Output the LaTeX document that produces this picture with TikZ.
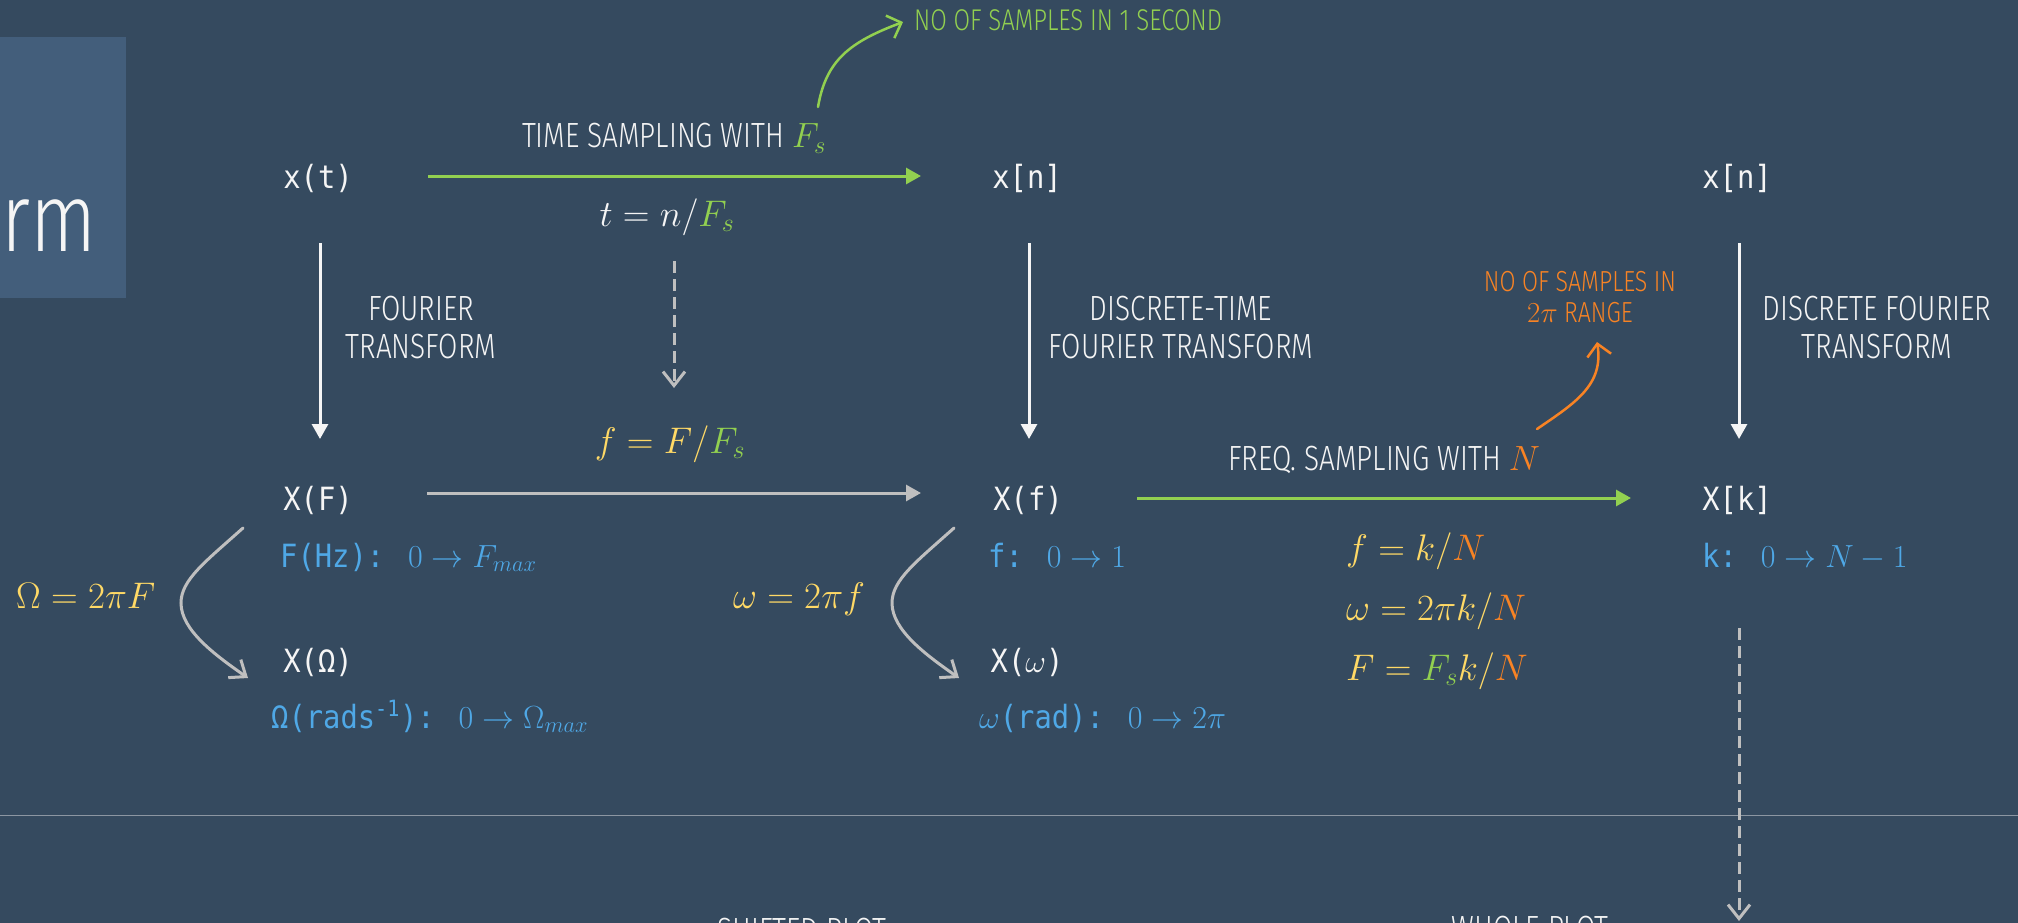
\RequirePackage{fix-cm}
\documentclass[tikz,border=0pt]{standalone}
\usepackage{fontspec}
\usetikzlibrary{arrows.meta}
\newfontfamily\handfont[FakeStretch=0.8]{Fira Sans Light}
\newfontfamily\monofont[FakeStretch=0.9]{DejaVu Sans Mono}
\definecolor{bgc}{RGB}{53,74,95}
\definecolor{boxc}{RGB}{67,94,123}
\definecolor{txtw}{RGB}{245,245,245}
\definecolor{myyellow}{RGB}{255,217,102}
\definecolor{mygreen}{RGB}{146,208,80}
\definecolor{myorange}{RGB}{248,131,36}
\definecolor{myblue}{RGB}{79,168,230}
\definecolor{mygray}{RGB}{191,191,191}
\definecolor{sepc}{RGB}{140,150,162}
\tikzset{
  nd/.style={text=txtw, font=\monofont\fontsize{32}{38}\selectfont, inner sep=0pt, anchor=base},
  lbl/.style={text=txtw, font=\handfont\fontsize{35}{38}\selectfont, align=center, inner sep=0pt},
  note/.style={font=\handfont\fontsize{29}{31}\selectfont, align=center, inner sep=0pt},
  mth/.style={text=myyellow, font=\fontsize{37}{44}\selectfont, inner sep=0pt},
  rng/.style={text=myblue, font=\monofont\fontsize{32}{38}\selectfont, inner sep=0pt, anchor=base west},
  warrow/.style={draw=txtw, line width=3pt, -{Triangle[length=15pt,width=16pt]}},
  garrow/.style={draw=mygreen, line width=3pt, -{Triangle[length=15pt,width=16pt]}},
  grayarrow/.style={draw=mygray, line width=3pt, -{Triangle[length=15pt,width=16pt]}},
  dasharrow/.style={draw=mygray, line width=3pt, dash pattern=on 12pt off 6pt, -{Straight Barb[length=14pt,width=22pt]}},
  curvearrow/.style={draw=mygray, line width=3pt, line cap=round, -{Straight Barb[length=14pt,width=22pt]}},
  gnote/.style={draw=mygreen, line width=2.5pt, line cap=round, -{Straight Barb[length=12pt,width=24pt]}},
  onote/.style={draw=myorange, line width=2.5pt, line cap=round, -{Straight Barb[length=12pt,width=24pt]}},
}
\begin{document}
\begin{tikzpicture}[x=1pt,y=-1pt]
\useasboundingbox (0,0) rectangle (2018,923);
\clip (0,0) rectangle (2018,923);
\fill[bgc] (0,0) rectangle (2018,923);
\fill[boxc] (0,37) rectangle (126,298);
\node[text=txtw, font=\handfont\fontsize{97}{100}\selectfont, inner sep=0pt, anchor=base east] (ttl) at (97,251) {rm};
\draw[sepc, line width=1pt] (0,815) -- (2018,815);

% main nodes
\node[nd] (xt) at (318,188) {x(t)};
\node[nd] (xn) at (1027,188) {x[n]};
\node[nd] (xnn) at (1737,188) {x[n]};
\node[nd] (XF) at (318,510) {X(F)};
\node[nd] (Xf) at (1028,510) {X(f)};
\node[nd] (Xk) at (1737,510) {X[k]};
\node[nd] (XO) at (318,672) {X(Ω)};
\node[nd] (Xw) at (1027,672) {X($\omega$)};

% ranges
\node[rng] (rF) at (280,567) {F(Hz):\hspace{24pt}$0\to F_{max}$};
\node[rng] (rO) at (271,728) {Ω(rads\textsuperscript{-1}):\hspace{24pt}$0\to \Omega_{max}$};
\node[rng] (rf) at (988,567) {f:\hspace{24pt}$0\to 1$};
\node[rng] (rw) at (979,728) {$\omega$(rad):\hspace{24pt}$0\to 2\pi$};
\node[rng] (rk) at (1702,567) {k:\hspace{24pt}$0\to N-1$};

% labels
\node[lbl, anchor=base] (ts) at (674,148) {TIME SAMPLING WITH {\color{mygreen}$F_s$}};
\node[lbl, anchor=base] (fs) at (1384,470) {FREQ. SAMPLING WITH {\color{myorange}$N$}};
\node[lbl] (ft) at (421,328) {FOURIER\\TRANSFORM};
\node[lbl] (dtft) at (1181,328) {DISCRETE-TIME\\FOURIER TRANSFORM};
\node[lbl] (dft) at (1877,328) {DISCRETE FOURIER\\TRANSFORM};
\node[note, font=\handfont\fontsize{30}{31}\selectfont, text=mygreen, anchor=west] (nos) at (914,20) {NO OF SAMPLES IN 1 SECOND};
\node[note, text=myorange] (nsr) at (1580,297) {NO OF SAMPLES IN\\$2\pi$ RANGE};
\node[note, font=\handfont\fontsize{35}{38}\selectfont, text=txtw, anchor=base] (shp) at (802,942) {SHIFTED PLOT};
\node[note, font=\handfont\fontsize{35}{38}\selectfont, text=txtw, anchor=base] (whp) at (1530,940) {WHOLE PLOT};

% equations
\node[mth, text=txtw, anchor=base] (tn) at (667,226) {$t = n/{\color{mygreen}F_s}$};
\node[mth, anchor=base] (fF) at (670,453) {$f = F/{\color{mygreen}F_s}$};
\node[mth, anchor=base west] (eO) at (16,608) {$\Omega = 2\pi F$};
\node[mth, anchor=base west] (ew) at (733,608) {$\omega = 2\pi f$};
\node[mth, anchor=base west] (e1) at (1346,560) {$f = k/{\color{myorange}N}$};
\node[mth, anchor=base west] (e2) at (1346,620) {$\omega = 2\pi k/{\color{myorange}N}$};
\node[mth, anchor=base west] (e3) at (1346,680) {$F = {\color{mygreen}F_s}k/{\color{myorange}N}$};

% connectors
\draw[garrow] ([xshift=110pt,yshift=12pt]xt.base) -- ([xshift=-106pt,yshift=12pt]xn.base);
\draw[grayarrow] ([xshift=109pt,yshift=17pt]XF.base) -- ([xshift=-107pt,yshift=17pt]Xf.base);
\draw[garrow] ([xshift=109pt,yshift=12pt]Xf.base) -- ([xshift=-106pt,yshift=12pt]Xk.base);
\draw[warrow] ([xshift=2pt,yshift=-55pt]xt.base) -- ([xshift=2pt,yshift=71pt]XF.base);
\draw[warrow] ([xshift=2pt,yshift=-55pt]xn.base) -- ([xshift=1pt,yshift=71pt]Xf.base);
\draw[warrow] ([xshift=2pt,yshift=-55pt]xnn.base) -- ([xshift=2pt,yshift=71pt]Xk.base);
\draw[dasharrow] ([xshift=7pt,yshift=-35pt]tn.base) -- ([xshift=4pt,yshift=65pt]fF.base);
\coordinate (bot) at (1739,921);
\draw[dasharrow] ([xshift=2pt,yshift=-118pt]Xk.base) -- (bot);
\draw[curvearrow] ([xshift=-75pt,yshift=-18pt]XF.base) .. controls (205,562) and (181,580) .. (181,603) .. controls (181,630) and (215,655) .. ([xshift=-70pt,yshift=-6pt]XO.base);
\draw[curvearrow] ([xshift=-74pt,yshift=-18pt]Xf.base) .. controls (916,562) and (892,580) .. (892,603) .. controls (892,630) and (926,655) .. ([xshift=-68pt,yshift=-6pt]Xw.base);
\draw[gnote] ([xshift=144pt,yshift=41pt]ts.base) .. controls (826,60) and (850,42) .. ([xshift=-11pt,yshift=-2pt]nos.west);
\draw[onote] ([xshift=153pt,yshift=41pt]fs.base) .. controls (1575,403) and (1604,385) .. ([xshift=17pt,yshift=-45pt]nsr.center);
\end{tikzpicture}
\end{document}
